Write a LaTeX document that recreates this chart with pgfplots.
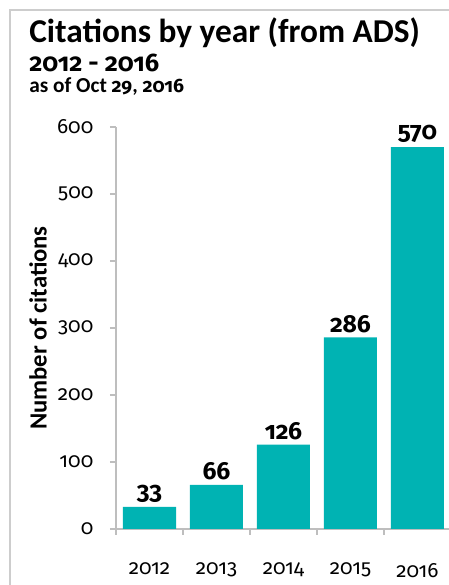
\documentclass[border=0pt]{standalone}
\usepackage{pgfplots}
\pgfplotsset{compat=1.18}
\usepackage{fontspec}
\setmainfont{Carlito}
\newfontfamily\numfont{Fira Sans}[Numbers=OldStyle]
\definecolor{barc}{RGB}{0,179,179}
\definecolor{axc}{RGB}{190,190,190}
\definecolor{framec}{RGB}{205,205,205}
\begin{document}
\begin{tikzpicture}[x=0.75pt,y=0.75pt]
\path[use as bounding box] (0,0) rectangle (449,585);
\draw[framec, line width=1.5pt] (10,0) -- (10,575) -- (449,575);
\node[anchor=base west, font=\bfseries\fontsize{25}{30}\selectfont, inner sep=0] at (29,542) {Citations by year (from ADS)};
\node[anchor=base west, font=\numfont\bfseries\fontsize{19}{22}\selectfont, inner sep=0] at (29,513) {2012 - 2016};
\node[anchor=base west, font=\bfseries\fontsize{16}{19}\selectfont, inner sep=0] at (29,492) {as of Oct {\numfont\fontsize{14.5}{17}\selectfont 29}, {\numfont\fontsize{14.5}{17}\selectfont 2016}};
\begin{axis}[
  at={(87pt,42pt)}, anchor=south west,
  scale only axis, width=251.25pt, height=301.5pt,
  xmin=-0.5, xmax=4.5, ymin=0, ymax=600,
  ytick={0,100,...,600},
  yticklabel={\pgfmathprintnumber[assume math mode=true]{\tick}},
  xtick={-0.5,0.5,1.5,2.5,3.5,4.5},
  xticklabels={},
  extra x ticks={0,1,2,3,4},
  extra x tick labels={2012,2013,2014,2015,2016},
  extra x tick style={major tick length=0pt, ticklabel style={yshift=-22pt}},
  axis x line*=bottom, axis y line*=left,
  axis line style={axc, line width=0.9pt, -},
  tick style={axc, line width=0.9pt},
  tick align=outside,
  major tick length=4.5pt,
  ticklabel style={font=\numfont\fontsize{15.5}{18}\selectfont, black},
  yticklabel style={xshift=-9pt},
  ylabel={Number of citations},
  ylabel style={font=\bfseries\fontsize{18.5}{22}\selectfont, at={(axis description cs:-0.233,0.5)}, anchor=center},
  ybar, bar width=39.75pt,
  nodes near coords={\pgfmathprintnumber[assume math mode=true]{\pgfplotspointmeta}},
  every node near coord/.append style={font=\numfont\bfseries\fontsize{18.5}{22}\selectfont, black},
]
\addplot[fill=barc, draw=none] coordinates {(0,33) (1,66) (2,126) (3,286) (4,570)};
\end{axis}
\end{tikzpicture}
\end{document}
